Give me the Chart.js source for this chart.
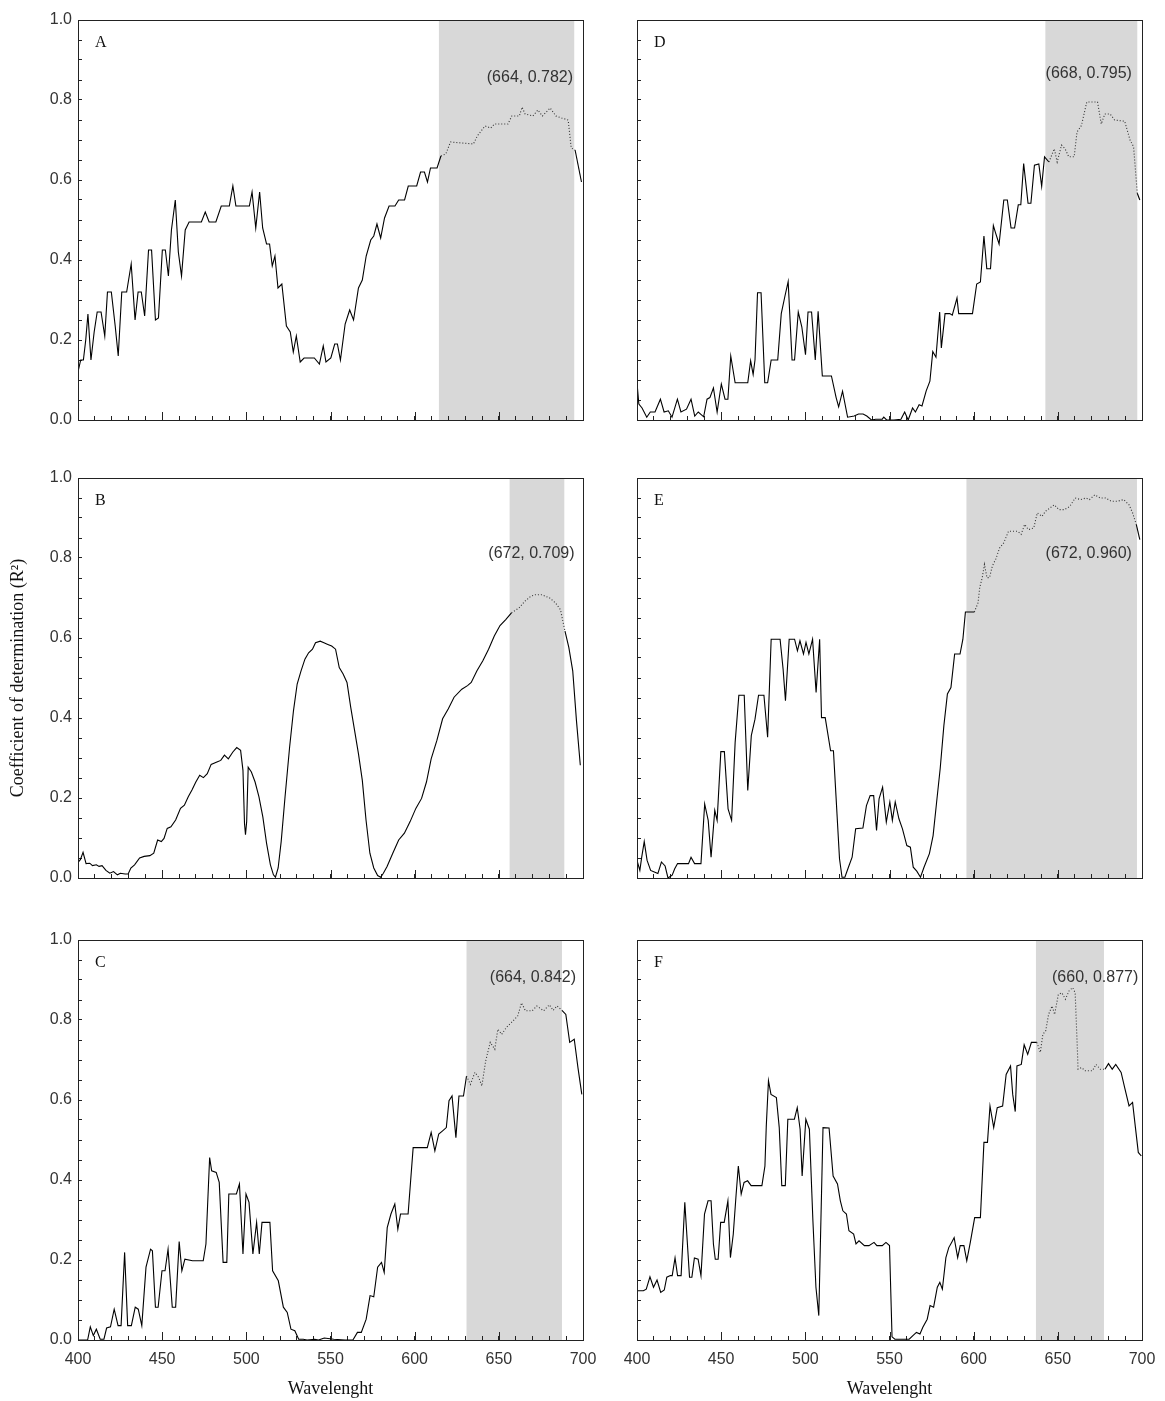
<!DOCTYPE html>
<html>
<head>
<meta charset="utf-8">
<script src="https://cdn.jsdelivr.net/npm/chart.js@4.4.0/dist/chart.umd.min.js"></script>
<style>
  body { margin: 0; background: #fff; }
  #fig { position: relative; width: 1165px; height: 1401px; background: #fff; }
  #fig canvas { position: absolute; }
</style>
</head>
<body>
<div id="fig"></div>
<script>
// wavelength (nm) and R2
const wlA = [400,401.6,403.2,404.6,405.9,407.7,409.6,411.4,413.7,415.9,417.5,419.8,422.1,423.9,426,428.9,431.6,433.9,435.7,437.6,439.6,441.9,443.7,446,447.8,450.1,451.9,453.7,455.5,457.8,459.6,461.5,463.7,466,473.3,475.6,477.9,481.9,485.1,489.9,492,493.8,501.8,503.4,505.6,507.9,509.7,512,513.8,515.4,517,518.8,521.1,523.8,526.1,527.9,529.7,532,534.3,540.4,543.4,545.7,547.3,550.2,552.5,554.1,555.9,558.7,561.4,563.7,566.6,568.9,571.2,573.9,575.7,577.6,579.8,582.1,584.8,588.3,590.5,594,596.2,601.2,603.5,605.8,607.6,609.4,613.3,615.6,618.5,621.3,634.9,637.2,641.8,645.2,647.4,655.4,657.7,662.2,663.8,665.6,670.2,673.2,675.9,680.5,683.9,687.3,691.2,693,695.3,699.1];
const r2A = [0.12,0.15,0.15,0.2,0.265,0.15,0.22,0.27,0.27,0.21,0.32,0.32,0.235,0.16,0.32,0.32,0.39,0.25,0.32,0.32,0.26,0.425,0.425,0.25,0.255,0.425,0.425,0.36,0.475,0.55,0.42,0.36,0.475,0.495,0.495,0.52,0.495,0.495,0.535,0.535,0.585,0.535,0.535,0.57,0.48,0.57,0.48,0.44,0.44,0.385,0.41,0.33,0.34,0.235,0.22,0.17,0.21,0.145,0.155,0.155,0.14,0.185,0.145,0.155,0.19,0.19,0.15,0.24,0.275,0.25,0.33,0.35,0.41,0.45,0.46,0.49,0.455,0.505,0.535,0.535,0.55,0.55,0.585,0.585,0.62,0.62,0.595,0.63,0.63,0.66,0.665,0.695,0.69,0.71,0.735,0.73,0.74,0.74,0.76,0.76,0.782,0.765,0.76,0.775,0.76,0.78,0.76,0.755,0.75,0.68,0.675,0.595];

const wlB = [400,401.4,403,404.8,407,408.6,410.9,412.5,414.3,416.6,418.9,421.1,423.4,425.2,428,429.8,431.4,433.6,436.6,439.3,442.7,445,447.3,449.5,451.1,453,455.2,458,460.9,463.2,465.5,467.7,470,472.3,474.5,476.8,479.1,482.5,484.8,487,489.3,492,494.3,496.6,498,498.9,499.5,500.2,501.1,503,505.2,507.5,509.8,512,514.3,516.1,517.3,518.9,520.7,523,525.7,528,530.2,532.5,534.8,537,539.3,541.1,543.9,546.1,548.4,550.7,553,555.2,557.5,559.8,562,564.3,566.6,568.9,571.1,573.4,575.7,578,579.8,581.4,583.6,587,590.5,593.9,597.3,600.7,604.1,607,609.8,613.2,616.6,620,623.4,628,631.4,633.6,637,640.5,643.9,647.3,650.7,654.1,657.5,662,665.5,668.9,671.1,675.7,680.2,683.6,686.6,689.3,691.6,693.9,696.1,698.4];
const r2B = [0.039,0.046,0.064,0.036,0.037,0.031,0.033,0.029,0.031,0.019,0.012,0.016,0.008,0.012,0.01,0.01,0.025,0.033,0.05,0.054,0.056,0.062,0.095,0.091,0.099,0.124,0.128,0.145,0.174,0.182,0.203,0.22,0.24,0.257,0.251,0.261,0.284,0.29,0.294,0.307,0.298,0.315,0.326,0.319,0.269,0.137,0.108,0.141,0.277,0.265,0.24,0.203,0.153,0.087,0.033,0.008,0.002,0.025,0.091,0.203,0.327,0.418,0.485,0.518,0.547,0.563,0.572,0.588,0.592,0.588,0.584,0.58,0.572,0.526,0.51,0.489,0.427,0.369,0.311,0.244,0.145,0.062,0.025,0.006,0.002,0.012,0.029,0.062,0.095,0.112,0.141,0.174,0.199,0.24,0.298,0.344,0.398,0.423,0.452,0.472,0.481,0.489,0.518,0.543,0.572,0.605,0.631,0.646,0.663,0.675,0.692,0.704,0.708,0.708,0.7,0.688,0.671,0.617,0.576,0.518,0.394,0.282];

const wlC = [400,405.7,407.3,409.1,410.9,413.2,415.4,417,419.3,421.5,423.8,425.6,427.7,429.5,431.7,434,435.8,437.9,440.4,443.1,444.2,446,447.6,449.9,451.7,453.5,456,458,460.1,461.7,463.5,468,474.4,476,478.2,479.4,482.1,483.9,486.2,488.4,489.6,494.1,495.9,498,499.8,501.6,503.9,506.1,507.7,509.3,514,515.6,519,522,524.3,526.5,528.8,531.1,533.8,536.1,540.6,542.9,546.3,551.9,558.7,563.3,566,568.3,571.2,573.5,575.7,578,580.3,581.9,583.7,585.9,588.2,590,591.6,596.1,599.1,607.5,609.8,612,614.3,616.6,618.8,620.4,622.2,624.5,626.3,629,630.8,633.1,635.8,638.1,639.9,642.2,644.9,647.6,649.4,651.7,654.4,658.5,661.2,663.5,665.8,669.8,672.6,676.6,680,682.3,684.6,687.5,689.8,692.1,694.8,697,699.3];
const r2C = [0,0,0.033,0.011,0.027,0.002,0.002,0.03,0.033,0.077,0.036,0.036,0.219,0.036,0.036,0.082,0.077,0.036,0.182,0.227,0.223,0.082,0.082,0.173,0.173,0.227,0.082,0.082,0.246,0.173,0.202,0.198,0.198,0.24,0.456,0.423,0.419,0.394,0.194,0.194,0.365,0.365,0.39,0.215,0.365,0.344,0.215,0.294,0.215,0.294,0.294,0.173,0.148,0.082,0.069,0.027,0.023,0.002,0.002,0,0.002,0,0.005,0.002,0,0,0.019,0.019,0.052,0.111,0.108,0.182,0.194,0.169,0.281,0.315,0.34,0.277,0.315,0.315,0.481,0.481,0.519,0.473,0.515,0.523,0.531,0.598,0.61,0.506,0.61,0.61,0.66,0.639,0.669,0.656,0.635,0.698,0.744,0.727,0.777,0.764,0.781,0.798,0.81,0.843,0.823,0.823,0.835,0.823,0.838,0.824,0.835,0.824,0.814,0.744,0.752,0.681,0.614];

const wlD = [400,401.1,403,405.8,407.9,410.7,413.9,416.1,418.6,420.8,424,426.1,429.4,432.1,434.3,436.4,439.6,441.6,443.3,445.4,447.6,450.1,452.3,454,455.7,458.3,465.8,467.5,469,470.1,471.6,473.7,475.9,477.6,479.7,483.6,485.7,487.9,489.8,492.1,493.6,495.8,497.9,500.1,501.6,503.7,505.9,507.6,510.1,512.9,515.5,518.3,519.8,522.1,525.1,529,531.6,534.3,536.5,539.3,541.8,545.7,546.6,548.3,552.6,556.8,559,561.1,563.7,565.4,567.6,569.3,571.8,574,575.7,577.6,579.8,580.8,583,585.8,587.3,590.1,591.1,599.3,601.8,604,606.1,607.8,610,611.7,613,615.1,617.9,620,622.2,624.3,626.5,628,629.7,632.3,634,636.1,638.7,640.4,642.1,644.7,647.9,649.6,652.2,654.3,656.5,659.7,661.4,664,667.2,673.6,675.8,677.9,681.1,683.7,689.7,692.9,695,697.2,698.7];
const r2D = [0.093,0.04,0.03,0.007,0.02,0.02,0.052,0.02,0.023,0.007,0.052,0.02,0.027,0.052,0.01,0.02,0.008,0.052,0.056,0.08,0.02,0.09,0.052,0.052,0.16,0.093,0.093,0.148,0.114,0.15,0.318,0.318,0.093,0.093,0.15,0.15,0.266,0.31,0.346,0.15,0.15,0.27,0.233,0.163,0.27,0.27,0.15,0.272,0.11,0.11,0.11,0.056,0.033,0.072,0.007,0.01,0.015,0.015,0.01,0,0.002,0.002,0.007,0,0,0.002,0.02,0,0.03,0.02,0.038,0.035,0.073,0.097,0.171,0.157,0.27,0.18,0.266,0.266,0.262,0.305,0.266,0.266,0.34,0.345,0.46,0.378,0.378,0.486,0.468,0.44,0.55,0.55,0.48,0.48,0.538,0.538,0.641,0.542,0.542,0.637,0.64,0.584,0.658,0.645,0.678,0.645,0.687,0.678,0.658,0.658,0.72,0.736,0.795,0.795,0.74,0.765,0.765,0.75,0.747,0.7,0.683,0.567,0.55];

const wlE = [400,401.7,402.8,404.3,406,408.1,410.3,412.4,414.5,416.7,418.4,420.9,422.4,424.1,430.6,432.1,434.2,438,440.2,442.3,444,446.2,447.6,449.8,451.9,454.1,456.2,458.3,460.5,463.7,465.8,467.9,470.1,472.2,475.4,477.6,479.7,485,486.8,488.2,490.4,493.6,495.3,496.8,498.9,500.4,502.1,504.3,506.4,508.5,509.6,511.8,515,516.7,518.2,520.3,521.8,523.5,525.6,527.8,529.9,534.2,536.3,538.5,540.6,542.3,543.8,545.9,548.1,550.2,551.7,553.4,555.6,557.7,560.3,562.4,564.1,566.2,568.4,570.5,573.7,575.9,578,580.1,582.3,584.4,586.5,588.7,591.9,593.6,595.1,600.4,602.6,603.6,605.1,606.4,607.9,609.4,611.1,613.2,615.4,617.9,620.7,626.1,628.2,630.3,632.5,635.7,637.8,640.6,642.7,645.3,647.9,650.6,653.8,657.1,660.3,663.5,666.7,668.8,672,675.2,678.4,681.6,685.5,689.1,692.3,694.4,696.6,698.7];
const r2E = [0.044,0.019,0.052,0.091,0.044,0.019,0.015,0.011,0.04,0.03,0,0.007,0.023,0.036,0.036,0.052,0.036,0.036,0.185,0.144,0.052,0.169,0.144,0.316,0.316,0.173,0.144,0.339,0.457,0.457,0.219,0.356,0.397,0.457,0.457,0.352,0.597,0.597,0.522,0.443,0.597,0.597,0.568,0.593,0.56,0.589,0.56,0.597,0.464,0.597,0.401,0.401,0.318,0.318,0.206,0.048,0.002,0.002,0.027,0.052,0.123,0.125,0.181,0.206,0.206,0.119,0.198,0.227,0.14,0.19,0.144,0.19,0.148,0.123,0.081,0.077,0.027,0.017,0.002,0.027,0.061,0.106,0.19,0.273,0.381,0.46,0.476,0.56,0.56,0.597,0.665,0.665,0.688,0.726,0.751,0.784,0.751,0.751,0.78,0.798,0.825,0.838,0.867,0.867,0.859,0.884,0.871,0.875,0.913,0.904,0.917,0.925,0.933,0.921,0.921,0.929,0.95,0.946,0.95,0.946,0.958,0.95,0.95,0.942,0.942,0.946,0.933,0.913,0.884,0.846];

const wlF = [400,403.8,405.5,407.7,409.8,411.9,414.1,416.2,417.7,419.8,420.9,422.6,424.1,426.2,428.4,429.4,431.2,432.6,434.1,436.3,438,440.1,442.2,444,445.4,446.5,448.2,449.7,451.8,454,455.5,457.2,458.9,460.2,461.9,463.6,465.7,467.8,474.2,476,476.8,478.1,479.6,482.8,484.5,486,488.1,489.6,493.5,495.2,496.9,498.1,500.3,502.4,504.5,506.3,508,508.8,510.5,514.1,516.5,519.1,520.8,522.3,524.4,525.9,528.7,530.1,531.9,535.1,537.8,540.8,542.5,545.7,547.9,550,551.5,553.2,561.7,563.9,566,568.1,569.8,572.4,574.1,576.2,578.4,579.9,581.4,583.5,585.2,586.9,588.4,590.5,592,594.2,595.9,598,600.6,604,606.1,608.2,609.7,611.9,614,617.2,619.3,621.9,623.2,624.7,625.7,628.3,630,632.1,634.3,637.5,639.6,641.1,642.8,644.5,646.6,648.1,650.3,652.4,654.5,656.7,658.8,660.3,661.6,662,664.1,666.3,670.5,672.7,675.2,678,680.1,682.3,684.4,687.6,689.7,692.3,694.4,696.1,697.8,699.6];
const r2F = [0.123,0.123,0.127,0.158,0.132,0.15,0.119,0.125,0.157,0.161,0.161,0.205,0.161,0.161,0.344,0.277,0.157,0.157,0.205,0.202,0.161,0.315,0.348,0.348,0.24,0.202,0.202,0.294,0.294,0.348,0.206,0.265,0.365,0.435,0.365,0.394,0.398,0.386,0.386,0.435,0.535,0.648,0.614,0.606,0.531,0.386,0.386,0.552,0.552,0.581,0.527,0.41,0.552,0.527,0.298,0.132,0.061,0.215,0.531,0.53,0.41,0.39,0.348,0.323,0.315,0.273,0.265,0.24,0.248,0.236,0.236,0.244,0.236,0.236,0.244,0.236,0.008,0.002,0.002,0.011,0.019,0.015,0.032,0.052,0.086,0.082,0.132,0.144,0.127,0.206,0.231,0.244,0.256,0.206,0.236,0.236,0.198,0.244,0.306,0.306,0.494,0.494,0.585,0.531,0.581,0.585,0.664,0.685,0.614,0.571,0.685,0.689,0.738,0.714,0.744,0.744,0.719,0.764,0.773,0.814,0.835,0.814,0.864,0.868,0.852,0.873,0.881,0.868,0.727,0.677,0.681,0.673,0.673,0.689,0.677,0.677,0.691,0.677,0.689,0.669,0.631,0.585,0.594,0.531,0.469,0.46];

// shaded wavelength window per panel (A..F) and the peak labels
const bandLo = [614.4, 656.4, 630.8, 642.6, 595.7, 637];
const bandHi = [694.8, 688.9, 687.5, 697.2, 697, 677.4];
const peakText = ['(664, 0.782)', '(672, 0.709)', '(664, 0.842)', '(668, 0.795)', '(672, 0.960)', '(660, 0.877)'];
const peakX = [694.1, 695, 695.9, 694, 694, 697.8];
const peakY = [0.857, 0.812, 0.905, 0.865, 0.81, 0.907];
const letters = ['A', 'B', 'C', 'D', 'E', 'F'];

const panels = [
  {wl: wlA, r2: r2A, col: 0, row: 0},
  {wl: wlB, r2: r2B, col: 0, row: 1},
  {wl: wlC, r2: r2C, col: 0, row: 2},
  {wl: wlD, r2: r2D, col: 1, row: 0},
  {wl: wlE, r2: r2E, col: 1, row: 1},
  {wl: wlF, r2: r2F, col: 1, row: 2},
];

const colLeft = [0, 607], axisW = [78, 30];
const rowTop = [0, 458, 920], axisH = [30, 30, 60];
const plotW = 505, plotH = 400, padT = 20, padR = 34;
const ink = '#222';
const sans = 'Liberation Sans', serif = 'Liberation Serif';

function framePlugin(k) {
  return {
    id: 'frame' + k,
    beforeDraw(chart) {
      const {ctx, chartArea: a, scales: {x}} = chart;
      const x0 = x.getPixelForValue(bandLo[k]), x1 = x.getPixelForValue(bandHi[k]);
      ctx.save();
      ctx.fillStyle = '#d8d8d8';
      ctx.fillRect(x0, a.top, x1 - x0, a.bottom - a.top);
      ctx.restore();
    },
    afterDraw(chart) {
      const {ctx, chartArea: a, scales: {x, y}} = chart;
      ctx.save();
      ctx.strokeStyle = ink;
      ctx.lineWidth = 1;
      ctx.strokeRect(Math.round(a.left) + 0.5, Math.round(a.top) + 0.5, Math.round(a.right - a.left), Math.round(a.bottom - a.top));
      // longer ticks every 50 nm
      ctx.beginPath();
      for (let v = 450; v < 700; v += 50) {
        const px = Math.round(x.getPixelForValue(v)) + 0.5;
        ctx.moveTo(px, a.bottom);
        ctx.lineTo(px, a.bottom - 8);
      }
      ctx.stroke();
      ctx.fillStyle = '#111';
      ctx.font = '16px "' + serif + '"';
      ctx.textBaseline = 'middle';
      ctx.fillText(letters[k], a.left + 17, a.top + 23);
      ctx.fillStyle = '#333';
      ctx.font = '16px "' + sans + '"';
      ctx.textAlign = 'right';
      ctx.fillText(peakText[k], x.getPixelForValue(peakX[k]), y.getPixelForValue(peakY[k]));
      ctx.restore();
    }
  };
}

const fig = document.getElementById('fig');

panels.forEach((p, k) => {
  const canvas = document.createElement('canvas');
  const w = axisW[p.col] + plotW + padR;
  const h = padT + plotH + axisH[p.row];
  canvas.width = w;
  canvas.height = h;
  canvas.style.left = colLeft[p.col] + 'px';
  canvas.style.top = rowTop[p.row] + 'px';
  fig.appendChild(canvas);

  const inBand = c => c.p0.parsed.x >= bandLo[k] && c.p1.parsed.x <= bandHi[k] + 1;
  const showY = p.col === 0, showX = p.row === 2;

  new Chart(canvas.getContext('2d'), {
    type: 'line',
    data: {
      datasets: [{
        data: p.wl.map((w, i) => ({x: w, y: p.r2[i]})),
        borderColor: '#000',
        borderWidth: 1.1,
        pointRadius: 0,
        tension: 0,
        segment: {
          borderDash: c => inBand(c) ? [1, 2] : undefined,
          borderColor: c => inBand(c) ? '#333' : undefined
        }
      }]
    },
    options: {
      responsive: false,
      animation: false,
      devicePixelRatio: 1,
      layout: {padding: {top: padT, right: padR, left: 0, bottom: 0}},
      plugins: {legend: {display: false}, tooltip: {enabled: false}},
      scales: {
        x: {
          type: 'linear',
          min: 400,
          max: 700,
          afterFit: s => { s.height = axisH[p.row]; },
          grid: {drawOnChartArea: false, drawTicks: true, tickLength: -4, tickColor: ink},
          border: {color: ink},
          ticks: {
            display: showX,
            stepSize: 10,
            autoSkip: false,
            maxRotation: 0,
            padding: 14,
            color: '#333',
            font: {family: sans, size: 16},
            callback: v => v % 50 === 0 ? String(v) : ''
          },
          title: {
            display: showX,
            text: 'Wavelenght',
            color: '#111',
            font: {family: serif, size: 18},
            padding: {top: 0, bottom: 0}
          }
        },
        y: {
          min: 0,
          max: 1,
          afterFit: s => { s.width = axisW[p.col]; },
          grid: {drawOnChartArea: false, drawTicks: true, tickLength: -4, tickColor: ink},
          border: {color: ink},
          ticks: {
            display: showY,
            stepSize: 0.05,
            autoSkip: false,
            padding: 10,
            color: '#333',
            font: {family: sans, size: 16},
            callback: v => Math.abs(v * 5 - Math.round(v * 5)) < 1e-6 ? v.toFixed(1) : ''
          },
          title: {
            display: k === 1,
            text: 'Coefficient of determination (R²)',
            color: '#111',
            font: {family: serif, size: 18},
            padding: {top: 7, bottom: 0}
          }
        }
      }
    },
    plugins: [framePlugin(k)]
  });
});
</script>
</body>
</html>
